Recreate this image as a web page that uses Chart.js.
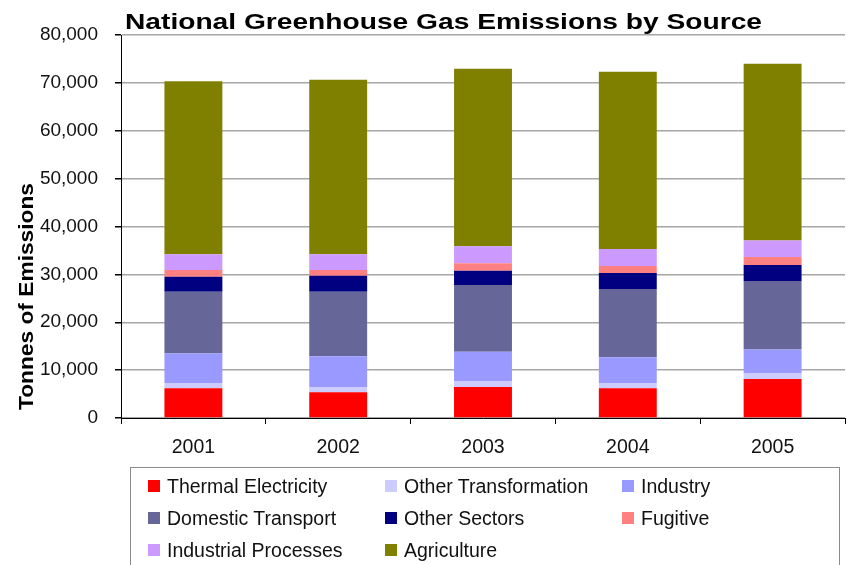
<!DOCTYPE html>
<html>
<head>
<meta charset="utf-8">
<script src="https://cdn.jsdelivr.net/npm/chart.js@4/dist/chart.umd.min.js"></script>
<style>
  body { margin: 0; background: #fff; overflow: hidden; }
  #wrap { position: relative; width: 847px; height: 565px; }
  #legend {
    position: absolute; left: 130px; top: 467px; width: 710px; height: 110px;
    border: 1px solid #8c8c8c; box-sizing: border-box;
    display: grid; grid-template-columns: 237px 237px 200px; grid-auto-rows: 32px;
    padding-left: 17px; padding-top: 2px;
    font-family: "Liberation Sans", Arial, sans-serif; font-size: 19.5px; color: #111;
  }
  #legend div { display: flex; align-items: center; white-space: nowrap; }
  #legend span.box { width: 12px; height: 12px; margin-right: 7px; display: inline-block; flex: none; }
</style>
</head>
<body>
<div id="wrap">
  <canvas id="graph0" width="847" height="565"></canvas>
  <div id="legend"></div>
</div>
<script>
var chartTitle = 'National Greenhouse Gas Emissions by Source';
var yTitle = 'Tonnes of Emissions';

var years = ['2001', '2002', '2003', '2004', '2005'];

// tonnes per source, bottom of the stack first
var thermalElectricity  = [6220, 5380, 6490, 6220, 8160];
var otherTransformation = [1110, 1110, 1130, 1110, 1130];
var industry            = [6150, 6430, 6200, 5380, 5030];
var domesticTransport   = [12900, 13460, 13960, 14230, 14300];
var otherSectors        = [3140, 3350, 2990, 3350, 3350];
var fugitive            = [1400, 1190, 1550, 1470, 1670];
var industrialProcesses = [3290, 3290, 3560, 3560, 3410];
var agriculture         = [36130, 36420, 37050, 36980, 36930];

var sourceNames = ['Thermal Electricity', 'Other Transformation', 'Industry',
  'Domestic Transport', 'Other Sectors', 'Fugitive', 'Industrial Processes', 'Agriculture'];
var sourceValues = [thermalElectricity, otherTransformation, industry,
  domesticTransport, otherSectors, fugitive, industrialProcesses, agriculture];
var sourceColors = ['#ff0000', '#ccccff', '#9999ff', '#666699', '#000080', '#ff8080', '#cc99ff', '#808000'];

var yMax = 80000;
var yStep = 10000;

var fontFamily = '"Liberation Sans", Arial, sans-serif';

// title and axis title get drawn by hand so they can be stretched a bit
var titlesPlugin = {
  id: 'titles',
  afterDraw: function(chart) {
    var ctx = chart.ctx;
    ctx.save();
    ctx.fillStyle = '#000';
    ctx.textBaseline = 'alphabetic';

    ctx.font = 'bold 22px ' + fontFamily;
    var w = ctx.measureText(chartTitle).width;
    ctx.save();
    ctx.translate(125, 29);
    ctx.scale(637 / w, 1);
    ctx.fillText(chartTitle, 0, 0);
    ctx.restore();

    ctx.font = 'bold 21px ' + fontFamily;
    w = ctx.measureText(yTitle).width;
    ctx.translate(33, 410);
    ctx.rotate(-Math.PI / 2);
    ctx.scale(227 / w, 1);
    ctx.fillText(yTitle, 0, 0);
    ctx.restore();
  }
};

var whiteBg = {
  id: 'whiteBg',
  beforeDraw: function(chart) {
    var ctx = chart.ctx;
    ctx.save();
    ctx.fillStyle = '#fff';
    ctx.fillRect(0, 0, chart.width, chart.height);
    ctx.restore();
  }
};

function buildDatasets() {
  var datasets = [];
  for (var i = 0; i < sourceNames.length; i++) {
    datasets.push({
      label: sourceNames[i],
      data: sourceValues[i],
      backgroundColor: sourceColors[i],
      borderWidth: 0,
      barPercentage: 0.4,
      categoryPercentage: 1.0
    });
  }
  return datasets;
}

function drawLegend(chart) {
  var box = document.getElementById('legend');
  var html = '';
  chart.data.datasets.forEach(function(ds) {
    html += '<div><span class="box" style="background:' + ds.backgroundColor + '"></span>' + ds.label + '</div>';
  });
  box.innerHTML = html;
}

function drawChart() {
  var ctx = document.getElementById('graph0');
  var chart = new Chart(ctx, {
    type: 'bar',
    data: {
      labels: years,
      datasets: buildDatasets()
    },
    options: {
      responsive: false,
      animation: false,
      layout: { padding: { top: 35, right: 2, bottom: 0, left: 0 } },
      plugins: {
        legend: { display: false },
        title: { display: false },
        tooltip: { enabled: false }
      },
      scales: {
        x: {
          stacked: true,
          grid: { offset: true, drawOnChartArea: false, drawTicks: true, tickLength: 6, tickColor: '#000' },
          border: { color: '#000', width: 1 },
          ticks: { color: '#111', padding: 12, font: { family: fontFamily, size: 19.5 } },
          afterFit: function(scale) { scale.height = 147; }
        },
        y: {
          stacked: true,
          min: 0,
          max: yMax,
          grid: { color: '#a6a6a6', lineWidth: 1.5, tickLength: 6, tickColor: '#000' },
          border: { color: '#000', width: 1 },
          ticks: {
            stepSize: yStep,
            color: '#111',
            padding: 17,
            font: { family: fontFamily, size: 19 },
            callback: function(v) { return v.toLocaleString('en-US'); }
          },
          afterFit: function(scale) { scale.width = 121; }
        }
      }
    },
    plugins: [whiteBg, titlesPlugin]
  });
  drawLegend(chart);
}

function init() {
  drawChart();
}

init();
</script>
</body>
</html>
